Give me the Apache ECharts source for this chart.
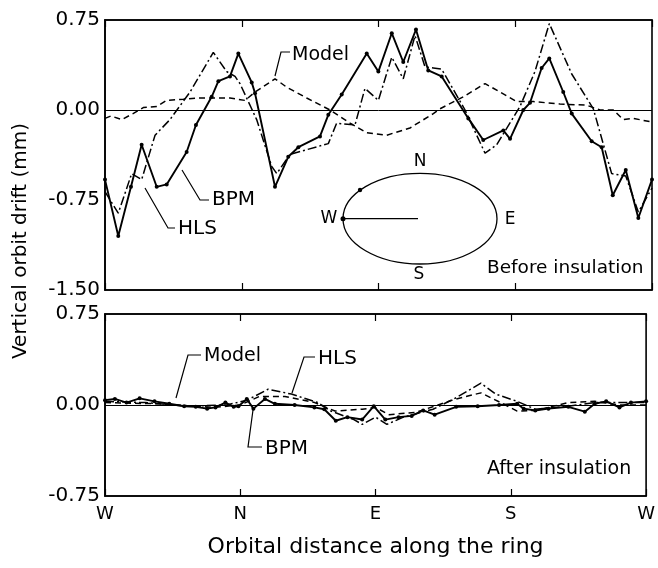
<!DOCTYPE html>
<html>
<head>
<meta charset="utf-8">
<script src="https://cdn.jsdelivr.net/npm/echarts@6/dist/echarts.min.js"></script>
<style>html,body{margin:0;padding:0;background:#fff;}#chart{width:658px;height:568px;}</style>
</head>
<body>
<div id="chart"></div>
<script>
// Orbital position: 0=W, 1=N, 2=E, 3=S, 4=W
const ringLabels = ['W', 'N', 'E', 'S', 'W'];
const yTicksTop = [-1.5, -0.75, 0, 0.75];
const yTicksBottom = [-0.75, 0, 0.75];

// Before insulation
const bpmBeforeX = [0, 0.097, 0.19, 0.268, 0.378, 0.451, 0.597, 0.665, 0.780, 0.829, 0.914, 0.975, 1.073, 1.097, 1.243, 1.340, 1.414, 1.572, 1.633, 1.731, 1.914, 1.999, 2.097, 2.181, 2.274, 2.364, 2.462, 2.657, 2.766, 2.913, 2.962, 3.059, 3.108, 3.193, 3.249, 3.351, 3.413, 3.559, 3.632, 3.713, 3.808, 3.900, 4.0];
const bpmBeforeY = [-0.58, -1.05, -0.64, -0.29, -0.64, -0.62, -0.35, -0.125, 0.11, 0.24, 0.28, 0.47, 0.23, 0.14, -0.64, -0.39, -0.31, -0.22, -0.04, 0.13, 0.47, 0.32, 0.64, 0.40, 0.67, 0.33, 0.28, -0.07, -0.25, -0.17, -0.24, 0.0, 0.06, 0.35, 0.43, 0.15, -0.03, -0.26, -0.31, -0.71, -0.50, -0.90, -0.58];

const hlsBeforeX = [0, 0.097, 0.195, 0.268, 0.366, 0.475, 0.622, 0.792, 0.890, 0.951, 0.987, 1.109, 1.219, 1.256, 1.353, 1.633, 1.694, 1.828, 1.901, 1.999, 2.097, 2.181, 2.267, 2.340, 2.401, 2.462, 2.633, 2.779, 2.864, 3.035, 3.144, 3.249, 3.413, 3.571, 3.705, 3.808, 3.900, 4.0];
const hlsBeforeY = [-0.68, -0.86, -0.53, -0.58, -0.21, -0.08, 0.15, 0.48, 0.32, 0.28, 0.22, -0.08, -0.47, -0.53, -0.37, -0.28, -0.11, -0.125, 0.18, 0.08, 0.44, 0.26, 0.62, 0.36, 0.35, 0.34, 0.0, -0.36, -0.29, 0.03, 0.32, 0.72, 0.30, 0.01, -0.53, -0.55, -0.85, -0.65];

const modelBeforeX = [0, 0.044, 0.122, 0.205, 0.28, 0.378, 0.451, 0.573, 0.67, 0.914, 1.024, 1.097, 1.243, 1.329, 1.475, 1.645, 1.792, 1.914, 2.06, 2.23, 2.401, 2.45, 2.62, 2.779, 2.888, 3.01, 3.132, 3.327, 3.522, 3.62, 3.717, 3.79, 3.863, 4.0];
const modelBeforeY = [-0.07, -0.05, -0.08, -0.03, 0.02, 0.03, 0.08, 0.09, 0.10, 0.10, 0.08, 0.15, 0.26, 0.19, 0.10, 0.0, -0.11, -0.19, -0.21, -0.15, -0.03, 0.01, 0.11, 0.22, 0.15, 0.07, 0.07, 0.05, 0.04, 0.0, 0.0, -0.08, -0.07, -0.10];

// After insulation
const bpmAfterX = [0, 0.073, 0.159, 0.256, 0.366, 0.475, 0.585, 0.671, 0.755, 0.817, 0.890, 0.951, 0.987, 1.048, 1.097, 1.182, 1.256, 1.402, 1.548, 1.621, 1.706, 1.792, 1.901, 1.987, 2.072, 2.17, 2.267, 2.352, 2.437, 2.596, 2.755, 2.913, 3.047, 3.095, 3.181, 3.278, 3.425, 3.547, 3.62, 3.705, 3.803, 3.888, 4.0];
const bpmAfterY = [0.04, 0.05, 0.02, 0.055, 0.03, 0.01, -0.01, -0.015, -0.03, -0.02, 0.02, -0.015, -0.01, 0.05, -0.03, 0.05, 0.01, 0.0, -0.02, -0.035, -0.13, -0.10, -0.12, -0.01, -0.12, -0.10, -0.09, -0.045, -0.08, -0.015, -0.01, 0.0, 0.01, -0.03, -0.045, -0.03, -0.015, -0.055, 0.01, 0.03, -0.02, 0.02, 0.03];

const hlsAfterX = [0, 0.3, 0.6, 0.9, 1.05, 1.206, 1.378, 1.572, 1.67, 1.84, 1.901, 2.0, 2.084, 2.206, 2.425, 2.596, 2.779, 2.888, 3.047, 3.181, 3.425, 3.62, 4.0];
const hlsAfterY = [0.03, 0.02, -0.01, 0.0, 0.04, 0.13, 0.09, 0.02, -0.05, -0.12, -0.16, -0.10, -0.16, -0.10, -0.035, 0.06, 0.18, 0.09, 0.03, -0.035, -0.01, 0.02, 0.02];

const modelAfterX = [0, 0.4, 0.8, 1.0, 1.14, 1.33, 1.55, 1.7, 1.901, 2.0, 2.1, 2.3, 2.596, 2.779, 2.925, 3.047, 3.181, 3.425, 3.62, 3.8, 4.0];
const modelAfterY = [0.02, 0.01, -0.02, 0.0, 0.07, 0.07, 0.02, -0.05, -0.035, -0.02, -0.08, -0.06, 0.05, 0.10, 0.02, -0.05, -0.045, 0.02, 0.03, 0.0, 0.0];

const zip = (xs, ys) => xs.map((x, i) => [x, ys[i]]);

const FONT = 'DejaVu Sans';
const BLACK = '#000';
const dashDot = [9, 3, 2, 3];
const dashed = [6, 4];

const chart = echarts.init(document.getElementById('chart'), null, {renderer: 'canvas'});

function xAx(grid, pos, showLabel) {
  return {
    type: 'value', gridIndex: grid, position: pos, min: 0, max: 4, interval: 1,
    axisLine: {show: true, onZero: false, lineStyle: {color: BLACK, width: 1.6}},
    axisTick: {show: true, inside: true, length: 7, lineStyle: {color: BLACK, width: 1.2}},
    axisLabel: {show: showLabel, color: BLACK, fontFamily: FONT, fontSize: 18, margin: 9,
      formatter: v => ringLabels[Math.round(v)]},
    splitLine: {show: false},
    name: showLabel ? 'Orbital distance along the ring' : '',
    nameLocation: 'middle', nameGap: 40,
    nameTextStyle: {color: BLACK, fontFamily: FONT, fontSize: 22}
  };
}
function yAx(grid, min, max) {
  return {
    type: 'value', gridIndex: grid, min: min, max: max, interval: 0.75,
    axisLine: {show: true, onZero: false, lineStyle: {color: BLACK, width: 1.6}},
    axisTick: {show: false},
    axisLabel: {color: BLACK, fontFamily: FONT, fontSize: 20, margin: 5,
      formatter: v => v.toFixed(2)},
    splitLine: {show: false}
  };
}
function zeroLine() {
  return {silent: true, symbol: 'none', label: {show: false},
    lineStyle: {color: BLACK, width: 1, type: 'solid'}, data: [{yAxis: 0}]};
}
function lineSeries(name, xi, yi, data, type, width, dots, withZero) {
  const s = {
    name: name, type: 'line', xAxisIndex: xi, yAxisIndex: yi, data: data,
    showSymbol: dots, symbol: 'circle', symbolSize: dots ? 4 : 0,
    itemStyle: {color: BLACK}, animation: false, silent: true,
    lineStyle: {color: BLACK, width: width, type: type}
  };
  if (withZero) s.markLine = zeroLine();
  return s;
}

const option = {
  backgroundColor: '#fff',
  animation: false,
  grid: [
    {left: 105, top: 20, width: 547, height: 270, show: true, borderColor: BLACK, borderWidth: 1.6, backgroundColor: 'transparent'},
    {left: 105, top: 314, width: 547, height: 182, show: true, borderColor: BLACK, borderWidth: 1.6, backgroundColor: 'transparent'}
  ],
  xAxis: [xAx(0, 'bottom', false), xAx(0, 'top', false), xAx(1, 'bottom', true), xAx(1, 'top', false)],
  yAxis: [yAx(0, yTicksTop[0], yTicksTop[yTicksTop.length - 1]), yAx(1, yTicksBottom[0], yTicksBottom[yTicksBottom.length - 1])],
  series: [
    lineSeries('Model', 0, 0, zip(modelBeforeX, modelBeforeY), dashed, 1.5, false, true),
    lineSeries('HLS', 0, 0, zip(hlsBeforeX, hlsBeforeY), dashDot, 1.5, false, false),
    lineSeries('BPM', 0, 0, zip(bpmBeforeX, bpmBeforeY), 'solid', 1.9, true, false),
    lineSeries('Model', 2, 1, zip(modelAfterX, modelAfterY), dashed, 1.5, false, true),
    lineSeries('HLS', 2, 1, zip(hlsAfterX, hlsAfterY), dashDot, 1.5, false, false),
    lineSeries('BPM', 2, 1, zip(bpmAfterX, bpmAfterY), 'solid', 1.9, true, false)
  ]
};
chart.setOption(option);

// Annotations (labels with leader lines, inset ring diagram)
const txt = (text, x, y, size, align) => ({
  type: 'text', x: x, y: y, silent: true,
  style: {text: text, fill: BLACK, font: size + 'px "' + FONT + '"', textAlign: align || 'left', textVerticalAlign: 'middle'}
});
const leader = (pts) => ({
  type: 'polyline', silent: true, shape: {points: pts},
  style: {stroke: BLACK, lineWidth: 1.2, fill: null}
});
const dot = (x, y, r) => ({type: 'circle', silent: true, shape: {cx: x, cy: y, r: r || 2}, style: {fill: BLACK}});

const graphics = [
  // y-axis title
  {type: 'text', x: 21, y: 241, rotation: Math.PI / 2, silent: true,
   style: {text: 'Vertical orbit drift (mm)', fill: BLACK, font: '20px "' + FONT + '"', textAlign: 'center', textVerticalAlign: 'middle'}},
  // top panel labels
  txt('Model', 292, 55, 19), leader([[290, 52], [281, 52], [275, 76]]),
  txt('BPM', 212, 200, 20), leader([[209, 200], [200, 200], [182, 170]]),
  txt('HLS', 178, 229, 20), leader([[175, 228], [168, 228], [145, 188]]),
  txt('Before insulation', 487, 268, 18.5),
  // inset ring
  {type: 'ellipse', silent: true, shape: {cx: 420, cy: 218.7, rx: 77, ry: 45.3}, style: {stroke: BLACK, lineWidth: 1.3, fill: null}},
  {type: 'line', silent: true, shape: {x1: 343, y1: 218.7, x2: 418, y2: 218.7}, style: {stroke: BLACK, lineWidth: 1.3}},
  dot(343, 218.7, 2.5), dot(360, 190, 2.2),
  txt('N', 420, 162, 17, 'center'), txt('E', 510, 220, 17, 'center'),
  txt('S', 419, 275, 17, 'center'), txt('W', 329, 219, 17, 'center'),
  // bottom panel labels
  txt('Model', 204, 356, 19), leader([[201, 355], [188, 355], [176, 398]]),
  txt('HLS', 318, 359, 20), leader([[315, 357], [304, 357], [292, 393]]),
  txt('BPM', 265, 449, 20), leader([[262, 447], [248, 447], [253, 410]]),
  txt('After insulation', 487, 469, 19)
];
chart.setOption({graphic: graphics});
</script>
</body>
</html>
